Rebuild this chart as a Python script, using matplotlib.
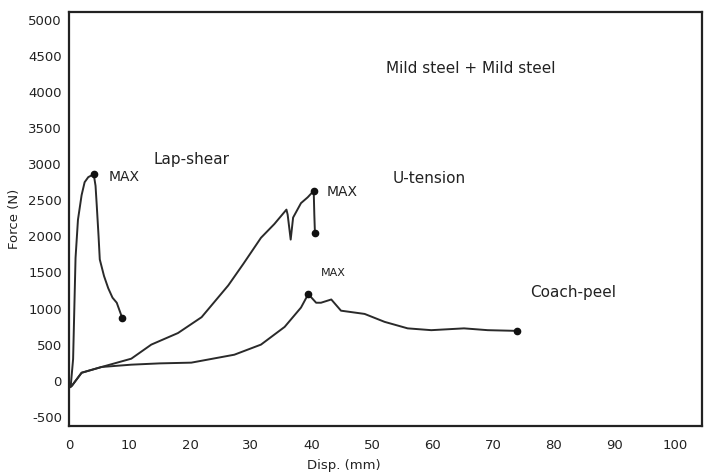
import matplotlib
matplotlib.use("Agg")
import matplotlib.pyplot as plt

plt.rcParams["axes.unicode_minus"] = False

# curves (disp in mm, force in N)
lap_x = [0.3, 0.7, 0.9, 1.1, 1.5, 2.1, 2.6, 3.2, 4.1, 4.4, 4.6, 4.9, 5.1, 5.8, 6.5, 7.2, 7.9, 8.8]
lap_y = [-80, 300, 1000, 1700, 2230, 2570, 2750, 2820, 2860, 2700, 2430, 2000, 1680, 1450, 1280, 1150, 1080, 870]

ut_x = [0.0, 0.5, 2.1, 5.4, 10.3, 13.6, 18.0, 21.9, 26.3, 28.8, 31.7, 33.9, 35.9, 36.1, 36.6, 37.0, 38.3, 39.4, 40.4, 40.5, 40.6]
ut_y = [-100, -70, 110, 190, 305, 500, 660, 880, 1320, 1620, 1980, 2170, 2370, 2300, 1955, 2260, 2460, 2540, 2630, 2300, 2050]

cp_x = [0.0, 0.5, 2.1, 5.4, 10.3, 15.0, 20.2, 27.3, 31.7, 35.6, 38.3, 39.5, 40.8, 41.6, 43.3, 44.9, 48.8, 52.1, 55.9, 59.8, 65.2, 69.1, 74.0]
cp_y = [-100, -70, 110, 190, 222, 240, 250, 360, 500, 745, 1013, 1200, 1080, 1080, 1125, 970, 925, 815, 725, 700, 725, 700, 690]

x_ticks = [0, 10, 20, 30, 40, 50, 60, 70, 80, 90, 100]
y_ticks = [-500, 0, 500, 1000, 1500, 2000, 2500, 3000, 3500, 4000, 4500, 5000]

ink = "#2a2a2a"

fig = plt.figure(figsize=(7.1, 4.73), dpi=100)
ax = fig.add_axes([0.097, 0.099, 0.892, 0.876])

for xs, ys in [(lap_x, lap_y), (ut_x, ut_y), (cp_x, cp_y)]:
    ax.plot(xs, ys, color=ink, lw=1.4)

# end / max dots
ax.plot([lap_x[8], lap_x[-1], ut_x[18], ut_x[-1], cp_x[11], cp_x[-1]],
        [lap_y[8], lap_y[-1], ut_y[18], ut_y[-1], cp_y[11], cp_y[-1]],
        "o", color="#111111", ms=4.5, ls="none")

ax.set_xlim(0, 104.5)
ax.set_ylim(-630, 5110)
ax.set_xticks(x_ticks)
ax.set_yticks(y_ticks)
ax.tick_params(axis="both", length=0, labelsize=9.5, colors="#222222")
ax.tick_params(axis="x", pad=9)
ax.tick_params(axis="y", pad=5)
for s in ax.spines.values():
    s.set_linewidth(1.6)
    s.set_color("#222222")

ax.set_ylabel("Force (N)", fontsize=9.5, color="#222222")
ax.yaxis.set_label_coords(-0.075, 0.5)
ax.set_xlabel("Disp. (mm)", fontsize=9.5, color="#222222")
ax.xaxis.set_label_coords(0.434, -0.08)

txt = dict(color="#222222", va="center", ha="left")
ax.text(52.3, 4320, "Mild steel + Mild steel", fontsize=11, **txt)
ax.text(13.9, 3060, "Lap-shear", fontsize=11, **txt)
ax.text(6.5, 2820, "MAX", fontsize=10, **txt)
ax.text(42.6, 2620, "MAX", fontsize=10, **txt)
ax.text(53.5, 2800, "U-tension", fontsize=11, **txt)
ax.text(41.6, 1490, "MAX", fontsize=8, **txt)
ax.text(76.1, 1220, "Coach-peel", fontsize=11, **txt)

fig.savefig("out.png", dpi=100)
